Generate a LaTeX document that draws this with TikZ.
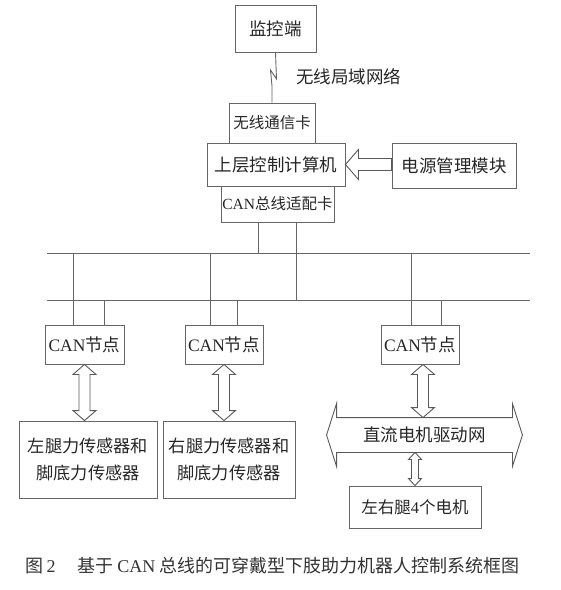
\documentclass[tikz,border=0pt]{standalone}
\usepackage{fontspec}
\setmainfont{Liberation Serif}
\newfontfamily\cjk{Noto Sans CJK SC}
\usetikzlibrary{calc}

% hollow double arrow, top anchor #1, bottom anchor #2
\newcommand{\vhollow}[5]{%
  \draw[hollow] let \p1=(#1), \p2=(#2) in
    (\x1,\y1) -- (\x1+#4,\y1-#5) -- (\x1+#3,\y1-#5) -- (\x1+#3,\y2+#5) -- (\x1+#4,\y2+#5)
    -- (\x1,\y2) -- (\x1-#4,\y2+#5) -- (\x1-#3,\y2+#5) -- (\x1-#3,\y1-#5) -- (\x1-#4,\y1-#5) -- cycle;}
% hollow single arrow, tip #1, tail #2
\newcommand{\hhollow}[5]{%
  \draw[hollow] let \p1=(#1), \p2=(#2) in
    (\x1,\y1) -- (\x1+#5,\y1+#4) -- (\x1+#5,\y1+#3) -- (\x2,\y1+#3)
    -- (\x2,\y1-#3) -- (\x1+#5,\y1-#3) -- (\x1+#5,\y1-#4) -- cycle;}

\begin{document}
\begin{tikzpicture}[x=1pt,y=-1pt]

\tikzstyle{box}=[rectangle, draw=black!60, line width=0.9pt, text=black!85, inner sep=0pt, font=\cjk\fontsize{17.5}{21}\selectfont]
\tikzstyle{smallbox}=[box, font=\cjk\fontsize{15.5}{19}\selectfont]
\tikzstyle{twoline}=[box, align=center, font=\cjk\fontsize{17.2}{27}\selectfont]
\tikzstyle{line}=[draw=black!60, line width=0.9pt]
\tikzstyle{hollow}=[draw=black!65, line width=0.9pt, line join=miter]

\useasboundingbox (0,0) rectangle (561,590);

% upper part
\node (mon) [box, minimum width=81, minimum height=47] at (275.5,28.5) {监控端};
\node (wlan) [text=black!85, font=\cjk\fontsize{17.5}{21}\selectfont] at (348.5,77) {无线局域网络};
\node (wifi) [smallbox, minimum width=86, minimum height=40] at (272,123) {无线通信卡};
\node (pc) [box, minimum width=138, minimum height=43] at (276,164.5) {上层控制计算机};
\node (power) [box, minimum width=124, minimum height=45] at (454,165.5) {电源管理模块};
\node (canc) [smallbox, minimum width=113, minimum height=36] at (277.5,204) {{\rmfamily CAN}总线适配卡};

\draw [line] (mon.south) -- (276.5,79) -- (270.5,70) -- (272,86) -- (wifi.north);
\hhollow{pc.east}{power.west}{6pt}{15pt}{13pt}

% CAN bus
\coordinate (b1w) at (47,253);
\coordinate (b1e) at (530,253);
\coordinate (b2w) at (47,300);
\coordinate (b2e) at (530,300);
\draw [line] (b1w) -- (b1e);
\draw [line] (b2w) -- (b2e);
\draw [line] ([xshift=-19.5pt]canc.south) -- ([xshift=-19.5pt]canc.south |- b1w);
\draw [line] ([xshift=18.5pt]canc.south) -- ([xshift=18.5pt]canc.south |- b2w);

% nodes
\node (node1) [box, minimum width=79, minimum height=39] at (84.5,344.5) {{\rmfamily CAN}节点};
\node (node2) [box, minimum width=78, minimum height=39] at (224,344.5) {{\rmfamily CAN}节点};
\node (node3) [box, minimum width=78, minimum height=39] at (420,344.5) {{\rmfamily CAN}节点};

\draw [line] ([xshift=-11.5pt]node1.north) -- ([xshift=-11.5pt]node1.north |- b1w);
\draw [line] ([xshift=19.5pt]node1.north) -- ([xshift=19.5pt]node1.north |- b2w);
\draw [line] ([xshift=-14pt]node2.north) -- ([xshift=-14pt]node2.north |- b1w);
\draw [line] ([xshift=13pt]node2.north) -- ([xshift=13pt]node2.north |- b2w);
\draw [line] ([xshift=-9pt]node3.north) -- ([xshift=-9pt]node3.north |- b1w);
\draw [line] ([xshift=21pt]node3.north) -- ([xshift=21pt]node3.north |- b2w);

% lower part
\node (sens1) [twoline, minimum width=138, minimum height=77] at (88,459.5) {左腿力传感器和\\脚底力传感器};
\node (sens2) [twoline, minimum width=132, minimum height=77] at (229,459.5) {右腿力传感器和\\脚底力传感器};
\node (drive) [box, draw=none, minimum width=175, minimum height=34] at (424.5,435) {直流电机驱动网};
\node (motor) [box, minimum width=132, minimum height=42, font=\cjk\fontsize{16.5}{20}\selectfont] at (415,507) {左右腿{\rmfamily 4}个电机};

\draw [hollow] (drive.north west) -- (drive.north east) -- ++(0,-14) -- ($(drive.east)+(10,0)$)
  -- ($(drive.south east)+(0,14)$) -- (drive.south east) -- (drive.south west) -- ++(0,14)
  -- ($(drive.west)+(-10,0)$) -- ($(drive.north west)+(0,-14)$) -- cycle;

\vhollow{node1.south}{sens1.north}{5.5pt}{11.5pt}{10pt}
\vhollow{node2.south}{sens2.north}{5.5pt}{11.5pt}{10pt}
\vhollow{[xshift=3pt]node3.south}{[xshift=3pt]drive.north}{5.5pt}{11.5pt}{10pt}
\vhollow{[xshift=-9.5pt]drive.south}{motor.north}{3.5pt}{6.5pt}{7pt}

% caption
\node (cap) [text=black!80, font=\cjk\fontsize{18}{21}\selectfont] at (272.5,566) {图{\rmfamily\,2}\hspace{1.2em}基于 {\rmfamily CAN} 总线的可穿戴型下肢助力机器人控制系统框图};

\end{tikzpicture}
\end{document}
